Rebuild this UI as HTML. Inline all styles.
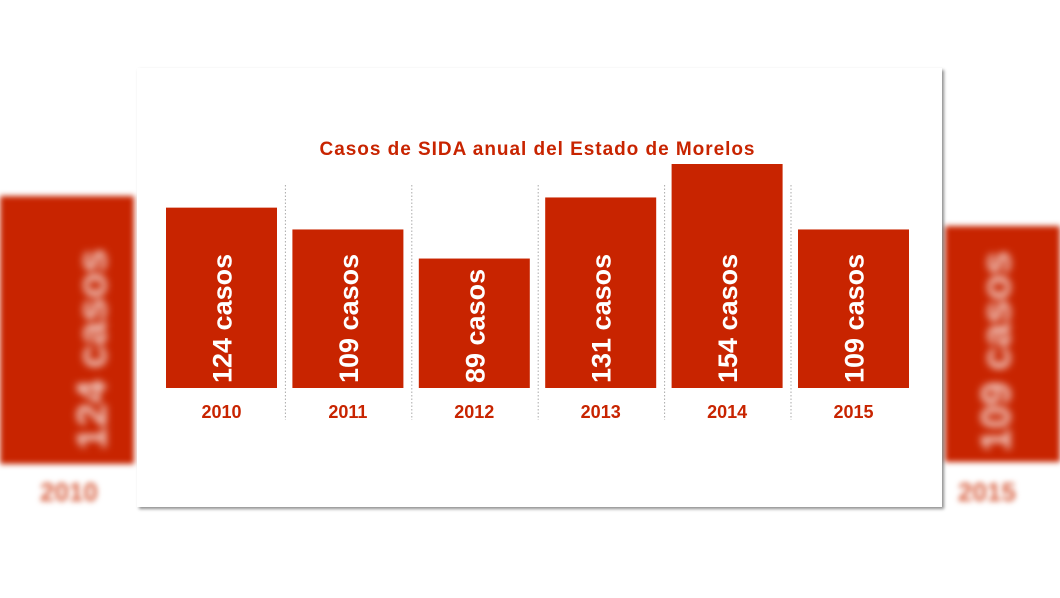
<!DOCTYPE html>
<html><head><meta charset="utf-8"><style>
body{margin:0;width:1060px;height:598px;background:#fff;overflow:hidden;position:relative;font-family:"Liberation Sans",sans-serif}
.side{position:absolute;background:#c82400;filter:blur(3px)}
.card{position:absolute;left:137px;top:68px;width:805px;height:439px;background:#fff;box-shadow:2px 2px 3px rgba(0,0,0,.45)}
</style></head><body>
<div class="side" style="left:0;top:196px;width:134px;height:268px"></div>
<div style="position:absolute;left:68px;top:450px;transform:rotate(-90deg);transform-origin:0 0;color:#f4d0c8;font-weight:bold;font-size:42px;filter:blur(4px);white-space:nowrap">124 casos</div>
<div style="position:absolute;left:40px;top:477px;color:#d86040;font-weight:bold;font-size:26px;filter:blur(3px)">2010</div>
<div class="side" style="left:945px;top:226px;width:115px;height:236px"></div>
<div style="position:absolute;left:972px;top:452px;transform:rotate(-90deg);transform-origin:0 0;color:#f4d0c8;font-weight:bold;font-size:42px;filter:blur(4px);white-space:nowrap">109 casos</div>
<div style="position:absolute;left:958px;top:477px;color:#d86040;font-weight:bold;font-size:26px;filter:blur(3px)">2015</div>
<div class="card"></div>
<svg id="chart" width="1060" height="598" style="position:absolute;left:0;top:0">
<text x="537" y="155" text-anchor="middle" fill="#c82400" font-weight="bold" font-size="19" textLength="435" lengthAdjust="spacing" font-family="Liberation Sans">Casos  de SIDA anual del Estado de Morelos</text>
</svg>
<script>
const years=['2010','2011','2012','2013','2014','2015'];
const cases=[124,109,89,131,154,109];
const svg=document.getElementById('chart');
const NS='http://www.w3.org/2000/svg';
const base=388, scale=224/154, x0=166, step=126.4, bw=111;
const y=v=>base-v*scale;
years.forEach((yr,i)=>{
  const x=x0+i*step;
  if(i>0){const l=document.createElementNS(NS,'line');
    
    
    l.setAttribute('x1',x-7);l.setAttribute('x2',x-7);l.setAttribute('y1',185);l.setAttribute('y2',420);
    l.setAttribute('stroke','#aaa');l.setAttribute('stroke-dasharray','1.5 2');svg.appendChild(l);}
  const r=document.createElementNS(NS,'rect');
  
  
  r.setAttribute('x',x);r.setAttribute('y',y(cases[i]));r.setAttribute('width',bw);r.setAttribute('height',base-y(cases[i]));
  r.setAttribute('fill','#c82400');svg.appendChild(r);
  const t=document.createElementNS(NS,'text');
  
  
  t.setAttribute('transform',`translate(${x+bw/2+10},${base-5}) rotate(-90)`);
  t.setAttribute('fill','#fff');t.setAttribute('font-weight','bold');t.setAttribute('font-size','27');
  t.setAttribute('font-family','Liberation Sans');t.textContent=cases[i]+' casos';svg.appendChild(t);
  const yl=document.createElementNS(NS,'text');
  
  
  yl.setAttribute('x',x+bw/2);yl.setAttribute('y',418);yl.setAttribute('text-anchor','middle');
  yl.setAttribute('fill','#c82400');yl.setAttribute('font-weight','bold');yl.setAttribute('font-size','18');
  yl.setAttribute('font-family','Liberation Sans');yl.textContent=yr;svg.appendChild(yl);
});
</script>
</body></html>
